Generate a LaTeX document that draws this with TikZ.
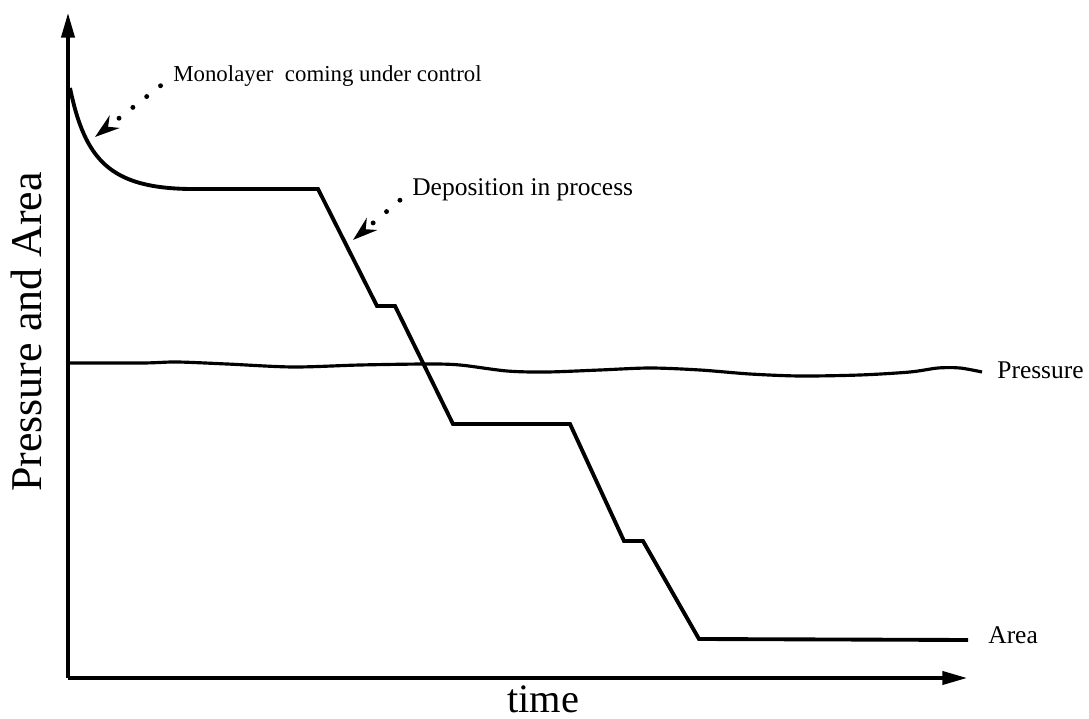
\documentclass[tikz,border=0pt]{standalone}
\usepackage{fontspec}
\setmainfont{Liberation Serif}
\usetikzlibrary{arrows.meta,positioning,calc}
\tikzset{
  axis/.style={line width=1.9pt,-{Triangle[length=14pt,width=7.5pt]}},
  curve/.style={line width=2.2pt,line join=miter},
  note/.style={line width=2.8pt,line cap=round,dash pattern=on 0pt off 10pt,
    shorten <=9pt,-{Stealth[length=14pt,width=9pt]}},
  lbl/.style={font=\fontsize{14.5}{16}\selectfont,inner sep=0pt},
  biglbl/.style={font=\fontsize{23}{26}\selectfont,inner sep=0pt},
}

\begin{document}
\begin{tikzpicture}[x=0.02cm,y=-0.02cm]
  \useasboundingbox (0,0) rectangle (1089,719);
  % axes
  \coordinate (o) at (68,678);
  \coordinate (ytip) at (68,13);
  \coordinate (xtip) at (967,678);
  \draw[axis] (o) -- (ytip);
  \draw[axis] (o) -- (xtip);
  \node[biglbl,font=\fontsize{25}{28}\selectfont,rotate=90] (ylab) at (26,332) {Pressure and Area};
  \node[biglbl] (xlab) at (543,699) {time};

  % area curve
  \coordinate (a0) at (70,88);
  \coordinate (aend) at (968,640);
  \draw[curve] (a0) .. controls (85,160) and (110,188) .. (190,189)
    -- (318,189) -- (377,306) -- (395,306) -- (453,424) -- (570,424)
    -- (624,541) -- (643,541) -- (699,639) -- (aend);
  \node[lbl,anchor=west] (area) at (988,635) {Area};

  % pressure curve
  \coordinate (pend) at (982,372);
  \draw[line width=1.8pt] plot[smooth,tension=0.5] coordinates {
    (68,363) (143,363) (177,362) (227,364) (293,367) (360,365) (427,364)
    (460,365) (507,371) (547,372) (600,370) (650,368) (700,370) (750,374)
    (800,376) (860,375) (910,372) (938,368) (960,368) (pend)};
  \node[lbl,anchor=west] (press) at (997,370) {Pressure};

  % notes
  \node[lbl,font=\fontsize{13}{15}\selectfont,anchor=west] (mono) at (173,76) {Monolayer\ \ coming under control};
  \coordinate (monotip) at (95,137);
  \draw[note] (mono.west) -- (monotip);
  \node[lbl,anchor=west] (depo) at (412,190) {Deposition in process};
  \coordinate (depotip) at (353,240);
  \draw[note] (depo.west) -- (depotip);
\end{tikzpicture}
\end{document}
